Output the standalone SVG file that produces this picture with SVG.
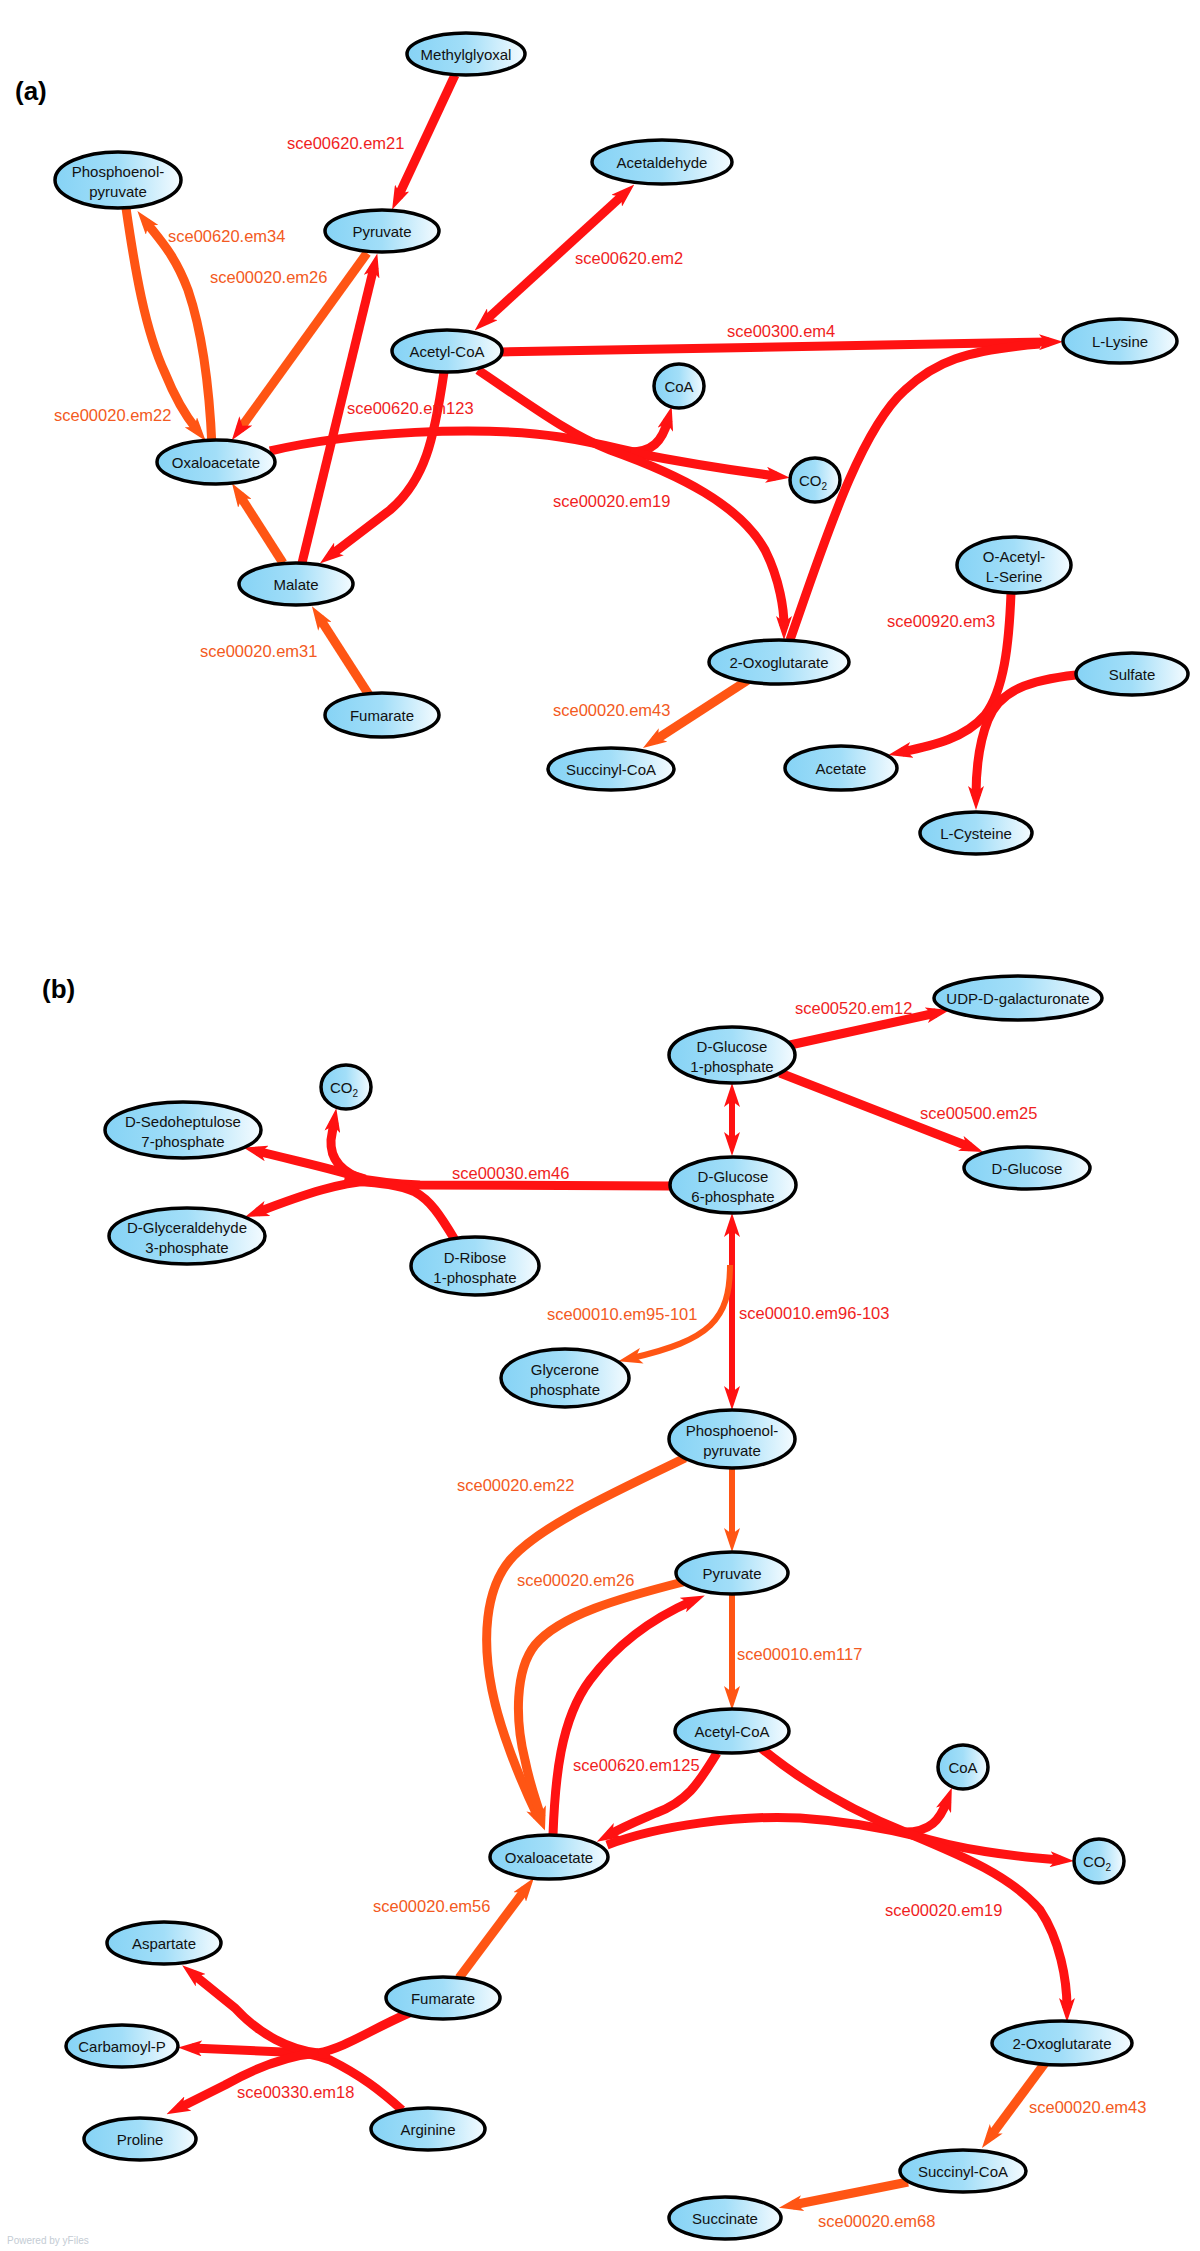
<svg xmlns="http://www.w3.org/2000/svg" width="1200" height="2251" viewBox="0 0 1200 2251">
<style>
.n ellipse{fill:url(#ng);stroke:#000;stroke-width:3.5}
.n text{font-family:"Liberation Sans",Arial,sans-serif;font-size:15px;fill:#111;text-anchor:middle}
.e{fill:none;stroke-linecap:butt}
.r{stroke:#ff1212}
.o{stroke:#ff5514}
.w9{stroke-width:9}
.w6{stroke-width:6}
.ar{marker-end:url(#mr)}
.ao{marker-end:url(#mo)}
.br{marker-start:url(#mr);marker-end:url(#mr)}
.lb{font-family:"Liberation Sans",Arial,sans-serif;font-size:16.5px}
.lr{fill:#f01e1e}
.lo{fill:#f35a22}
.ttl{font-family:"Liberation Sans",Arial,sans-serif;font-size:26px;font-weight:bold;fill:#000}
</style>
<defs>
<linearGradient id="ng" x1="0" y1="0" x2="1" y2="0">
<stop offset="0" stop-color="#86d3f5"/>
<stop offset="0.5" stop-color="#a2def8"/>
<stop offset="1" stop-color="#f4fbff"/>
</linearGradient>
<marker id="mr" viewBox="0 0 24 16" markerWidth="24" markerHeight="16" markerUnits="userSpaceOnUse" refX="10" refY="8" orient="auto-start-reverse">
<path d="M0,0 L24,8 L0,16 L6,8 z" fill="#ff1212"/>
</marker>
<marker id="mo" viewBox="0 0 24 16" markerWidth="24" markerHeight="16" markerUnits="userSpaceOnUse" refX="10" refY="8" orient="auto-start-reverse">
<path d="M0,0 L24,8 L0,16 L6,8 z" fill="#ff5514"/>
</marker>
</defs>
<rect width="1200" height="2251" fill="#fff"/>
<text class="ttl" x="15" y="100">(a)</text>
<text class="ttl" x="42" y="998">(b)</text>

<g id="connectors">
<!-- (a) -->
<path class="e r w9 ar" d="M455,75 L398,197"/>
<path class="e r w9 br" d="M485,321 L624,194"/>
<path class="e r w9 ar" d="M501,352 L1049,342"/>
<path class="e r w9" d="M790,640 C825,540 860,430 905,390 C935,362 965,350 1040,344"/>
<path class="e r w9" d="M270,451 C350,432 480,425 560,437 C600,443 630,452 650,455"/>
<path class="e r w9 ar" d="M630,452 C652,452 662,442 668,420"/>
<path class="e r w9 ar" d="M630,452 C680,462 730,470 776,476"/>
<path class="e r w9 ar" d="M478,370 C530,405 570,435 610,450 C680,475 740,505 765,550 C780,580 784,610 784,626"/>
<path class="e r w9 ar" d="M444,372 C434,440 425,480 390,510 L331,555"/>
<path class="e r w9 ar" d="M302,563 L374,267"/>
<path class="e o w9 ar" d="M367,253 L240,429"/>
<path class="e o w9 ao" d="M126,208 C135,270 145,330 165,373 C175,398 185,415 197,430"/>
<path class="e o w9 ao" d="M212,447 C210,400 205,340 188,290 C175,255 160,240 146,222"/>
<path class="e o w9 ao" d="M283,563 L239.5,495"/>
<path class="e o w9 ao" d="M369,695 L319.5,618"/>
<path class="e o w9 ao" d="M748,680 L654.7,740.4"/>
<path class="e r w9 ar" d="M1011,593 C1009,645 1004,690 985,715 C965,738 935,745 902,752"/>
<path class="e r w9 ar" d="M1076,675 C1030,680 1000,690 988,720 C978,745 976,770 976,796"/>
<!-- (b) -->
<path class="e r w9 ar" d="M790,1045 L936,1013"/>
<path class="e r w9 ar" d="M780,1073 L970,1147"/>
<path class="e r w6 br" d="M732,1097 L732,1142"/>
<path class="e r w6 br" d="M732,1227 L732,1396"/>
<path class="e o w6 ao" d="M730,1265 C730,1320 710,1340 632,1358"/>
<path class="e r w9" d="M670,1186 L420,1185 C390,1184 370,1181 345,1176"/>
<path class="e r w9" d="M455,1240 C440,1215 430,1200 415,1192 C400,1185 380,1183 355,1181"/>
<path class="e r w9 ar" d="M365,1179 C330,1168 300,1162 257,1151"/>
<path class="e r w9 ar" d="M370,1181 C340,1183 310,1192 258,1212"/>
<path class="e r w9 ar" d="M365,1180 C340,1172 330,1158 331,1140 L334,1122"/>
<path class="e o w6 ao" d="M732,1468 L732,1538"/>
<path class="e o w6 ao" d="M732,1595 L732,1696"/>
<path class="e o w9 ao" d="M685,1458 C620,1490 540,1525 510,1560 C485,1590 482,1640 492,1690 C500,1730 520,1780 538,1817"/>
<path class="e o w9 ao" d="M683,1582 C620,1598 560,1615 535,1645 C515,1670 515,1720 525,1760 C530,1785 536,1800 541,1817"/>
<path class="e r w9 ar" d="M553,1835 C555,1780 560,1720 590,1680 C620,1640 660,1615 692,1601"/>
<path class="e r w9 ar" d="M717,1753 C700,1780 690,1800 656,1813 C640,1820 625,1826 609,1835"/>
<path class="e r w9" d="M607,1845 C660,1825 740,1815 800,1818 C860,1822 900,1832 920,1837"/>
<path class="e r w9 ar" d="M905,1832 C930,1832 940,1820 947,1801"/>
<path class="e r w9 ar" d="M910,1834 C960,1850 1010,1856 1060,1860"/>
<path class="e r w9 ar" d="M761,1748 C800,1780 850,1810 905,1832 C960,1855 1010,1875 1040,1910 C1060,1940 1067,1980 1067,2008"/>
<path class="e o w9 ao" d="M459,1978 L525.6,1889"/>
<path class="e r w9" d="M409,2013 C370,2030 345,2048 318,2053"/>
<path class="e r w9" d="M402,2110 C380,2090 360,2075 330,2060 C310,2052 295,2052 283,2053"/>
<path class="e r w9 ar" d="M330,2054 L192,2048"/>
<path class="e r w9 ar" d="M318,2053 C290,2050 260,2035 235,2008 L193,1974"/>
<path class="e r w9 ar" d="M318,2053 C285,2056 255,2068 225,2085 L179,2108"/>
<path class="e o w9 ao" d="M1045,2063 L990.3,2136.8"/>
<path class="e o w9 ao" d="M908,2182 L792.7,2205"/>

<!-- edge labels -->
<text class="lb lr" x="287" y="149">sce00620.em21</text>
<text class="lb lo" x="168" y="242">sce00620.em34</text>
<text class="lb lo" x="210" y="283">sce00020.em26</text>
<text class="lb lo" x="54" y="421">sce00020.em22</text>
<text class="lb lr" x="347" y="414">sce00620.em123</text>
<text class="lb lr" x="575" y="264">sce00620.em2</text>
<text class="lb lr" x="727" y="337">sce00300.em4</text>
<text class="lb lr" x="553" y="507">sce00020.em19</text>
<text class="lb lo" x="200" y="657">sce00020.em31</text>
<text class="lb lo" x="553" y="716">sce00020.em43</text>
<text class="lb lr" x="887" y="627">sce00920.em3</text>
<text class="lb lr" x="795" y="1014">sce00520.em12</text>
<text class="lb lr" x="920" y="1119">sce00500.em25</text>
<text class="lb lr" x="452" y="1179">sce00030.em46</text>
<text class="lb lo" x="547" y="1320">sce00010.em95-101</text>
<text class="lb lr" x="739" y="1319">sce00010.em96-103</text>
<text class="lb lo" x="457" y="1491">sce00020.em22</text>
<text class="lb lo" x="517" y="1586">sce00020.em26</text>
<text class="lb lo" x="737" y="1660">sce00010.em117</text>
<text class="lb lr" x="573" y="1771">sce00620.em125</text>
<text class="lb lo" x="373" y="1912">sce00020.em56</text>
<text class="lb lr" x="885" y="1916">sce00020.em19</text>
<text class="lb lo" x="1029" y="2113">sce00020.em43</text>
<text class="lb lr" x="237" y="2098">sce00330.em18</text>
<text class="lb lo" x="818" y="2227">sce00020.em68</text>
</g>

<!-- (a) nodes -->
<g id="a-methylglyoxal" class="n"><ellipse cx="466" cy="54" rx="59" ry="21"/><text x="466" y="60">Methylglyoxal</text></g>
<g id="a-pep" class="n"><ellipse cx="118" cy="180" rx="63" ry="28"/><text x="118" y="177">Phosphoenol-</text><text x="118" y="197">pyruvate</text></g>
<g id="a-pyruvate" class="n"><ellipse cx="382" cy="231" rx="57" ry="21"/><text x="382" y="237">Pyruvate</text></g>
<g id="a-acetaldehyde" class="n"><ellipse cx="662" cy="162" rx="70" ry="22"/><text x="662" y="168">Acetaldehyde</text></g>
<g id="a-acetylcoa" class="n"><ellipse cx="447" cy="351" rx="55" ry="21"/><text x="447" y="357">Acetyl-CoA</text></g>
<g id="a-lysine" class="n"><ellipse cx="1120" cy="341" rx="57" ry="22"/><text x="1120" y="347">L-Lysine</text></g>
<g id="a-coa" class="n"><ellipse cx="679" cy="386" rx="25" ry="22"/><text x="679" y="392">CoA</text></g>
<g id="a-oxaloacetate" class="n"><ellipse cx="216" cy="462" rx="59" ry="22"/><text x="216" y="468">Oxaloacetate</text></g>
<g id="a-co2" class="n"><ellipse cx="815" cy="480" rx="25" ry="22"/><text x="813" y="486">CO<tspan font-size="10" dy="4">2</tspan></text></g>
<g id="a-malate" class="n"><ellipse cx="296" cy="584" rx="57" ry="21"/><text x="296" y="590">Malate</text></g>
<g id="a-fumarate" class="n"><ellipse cx="382" cy="715" rx="57" ry="22"/><text x="382" y="721">Fumarate</text></g>
<g id="a-oxoglutarate" class="n"><ellipse cx="779" cy="662" rx="70" ry="22"/><text x="779" y="668">2-Oxoglutarate</text></g>
<g id="a-oacetylserine" class="n"><ellipse cx="1014" cy="565" rx="57" ry="28"/><text x="1014" y="562">O-Acetyl-</text><text x="1014" y="582">L-Serine</text></g>
<g id="a-sulfate" class="n"><ellipse cx="1132" cy="674" rx="56" ry="21"/><text x="1132" y="680">Sulfate</text></g>
<g id="a-succinylcoa" class="n"><ellipse cx="611" cy="769" rx="63" ry="21"/><text x="611" y="775">Succinyl-CoA</text></g>
<g id="a-acetate" class="n"><ellipse cx="841" cy="768" rx="56" ry="22"/><text x="841" y="774">Acetate</text></g>
<g id="a-cysteine" class="n"><ellipse cx="976" cy="833" rx="56" ry="21"/><text x="976" y="839">L-Cysteine</text></g>

<!-- (b) nodes -->
<g id="b-co2-top" class="n"><ellipse cx="346" cy="1087" rx="25" ry="22"/><text x="344" y="1093">CO<tspan font-size="10" dy="4">2</tspan></text></g>
<g id="b-sedoheptulose" class="n"><ellipse cx="183" cy="1130" rx="78" ry="28"/><text x="183" y="1127">D-Sedoheptulose</text><text x="183" y="1147">7-phosphate</text></g>
<g id="b-glyceraldehyde" class="n"><ellipse cx="187" cy="1236" rx="78" ry="28"/><text x="187" y="1233">D-Glyceraldehyde</text><text x="187" y="1253">3-phosphate</text></g>
<g id="b-ribose" class="n"><ellipse cx="475" cy="1266" rx="64" ry="29"/><text x="475" y="1263">D-Ribose</text><text x="475" y="1283">1-phosphate</text></g>
<g id="b-udp" class="n"><ellipse cx="1018" cy="998" rx="84" ry="22"/><text x="1018" y="1004">UDP-D-galacturonate</text></g>
<g id="b-g1p" class="n"><ellipse cx="732" cy="1055" rx="63" ry="28"/><text x="732" y="1052">D-Glucose</text><text x="732" y="1072">1-phosphate</text></g>
<g id="b-glucose" class="n"><ellipse cx="1027" cy="1168" rx="63" ry="21"/><text x="1027" y="1174">D-Glucose</text></g>
<g id="b-g6p" class="n"><ellipse cx="733" cy="1185" rx="63" ry="28"/><text x="733" y="1182">D-Glucose</text><text x="733" y="1202">6-phosphate</text></g>
<g id="b-glycerone" class="n"><ellipse cx="565" cy="1378" rx="64" ry="29"/><text x="565" y="1375">Glycerone</text><text x="565" y="1395">phosphate</text></g>
<g id="b-pep" class="n"><ellipse cx="732" cy="1439" rx="63" ry="29"/><text x="732" y="1436">Phosphoenol-</text><text x="732" y="1456">pyruvate</text></g>
<g id="b-pyruvate" class="n"><ellipse cx="732" cy="1573" rx="56" ry="21"/><text x="732" y="1579">Pyruvate</text></g>
<g id="b-acetylcoa" class="n"><ellipse cx="732" cy="1731" rx="57" ry="22"/><text x="732" y="1737">Acetyl-CoA</text></g>
<g id="b-coa" class="n"><ellipse cx="963" cy="1767" rx="25" ry="22"/><text x="963" y="1773">CoA</text></g>
<g id="b-oxaloacetate" class="n"><ellipse cx="549" cy="1857" rx="59" ry="22"/><text x="549" y="1863">Oxaloacetate</text></g>
<g id="b-co2" class="n"><ellipse cx="1099" cy="1861" rx="25" ry="22"/><text x="1097" y="1867">CO<tspan font-size="10" dy="4">2</tspan></text></g>
<g id="b-aspartate" class="n"><ellipse cx="164" cy="1943" rx="57" ry="21"/><text x="164" y="1949">Aspartate</text></g>
<g id="b-fumarate" class="n"><ellipse cx="443" cy="1998" rx="57" ry="21"/><text x="443" y="2004">Fumarate</text></g>
<g id="b-carbamoylp" class="n"><ellipse cx="122" cy="2046" rx="56" ry="21"/><text x="122" y="2052">Carbamoyl-P</text></g>
<g id="b-proline" class="n"><ellipse cx="140" cy="2139" rx="56" ry="21"/><text x="140" y="2145">Proline</text></g>
<g id="b-arginine" class="n"><ellipse cx="428" cy="2129" rx="57" ry="21"/><text x="428" y="2135">Arginine</text></g>
<g id="b-oxoglutarate" class="n"><ellipse cx="1062" cy="2043" rx="70" ry="22"/><text x="1062" y="2049">2-Oxoglutarate</text></g>
<g id="b-succinylcoa" class="n"><ellipse cx="963" cy="2171" rx="63" ry="21"/><text x="963" y="2177">Succinyl-CoA</text></g>
<g id="b-succinate" class="n"><ellipse cx="725" cy="2218" rx="56" ry="21"/><text x="725" y="2224">Succinate</text></g>

<text x="7" y="2244" font-family="Liberation Sans, Arial, sans-serif" font-size="10" fill="#c4ccd4">Powered by yFiles</text>
</svg>
